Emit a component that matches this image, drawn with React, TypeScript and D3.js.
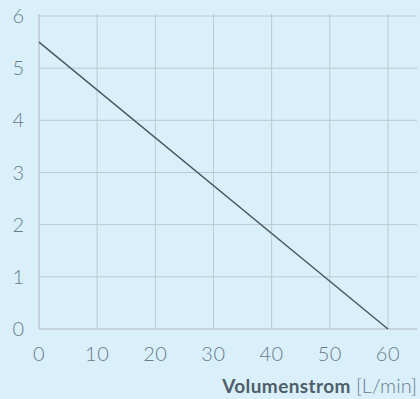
import React from "react";
import * as d3 from "d3";

const xTicks = [0, 10, 20, 30, 40, 50, 60];
const yTicks = [0, 1, 2, 3, 4, 5, 6];
const lineX = [0, 60];
const lineY = [5.5, 0];

const W = 420;
const H = 399;

export default function App() {
  const x = d3.scaleLinear().domain([0, 65]).range([39, 417]);
  const y = d3.scaleLinear().domain([0, 6]).range([329, 16]);
  const pts = lineX.map((v, i) => [v, lineY[i]] as [number, number]);
  const line = d3.line<[number, number]>().x(d => x(d[0])).y(d => y(d[1]));
  const grid = "#bcc8cf";
  const txt = "#6a7c88";
  const font = "Lato, 'Open Sans', sans-serif";
  return (
    <svg width={W} height={H} style={{ position: "fixed", left: 0, top: 0, background: "#d9f0fb" }}>
      <rect x={0} y={0} width={W} height={H} fill="#d9f0fb" />
      {yTicks.filter(t => t > 0).map(t => (
        <line key={"gy" + t} x1={x(0)} x2={417} y1={y(t)} y2={y(t)} stroke={grid} strokeWidth={1} />
      ))}
      {xTicks.filter(t => t > 0).map(t => (
        <line key={"gx" + t} x1={x(t)} x2={x(t)} y1={y(0)} y2={14} stroke={grid} strokeWidth={1} />
      ))}
      <line x1={x(0)} x2={x(0)} y1={y(0)} y2={14} stroke={grid} strokeWidth={1.5} />
      <line x1={x(0)} x2={417} y1={y(0)} y2={y(0)} stroke={grid} strokeWidth={1.5} />
      <path d={line(pts) || ""} fill="none" stroke="#4a5964" strokeWidth={1.5} />
      {yTicks.map(t => (
        <text key={"ty" + t} x={24} y={y(t) + 7} textAnchor="end" fontFamily={font} fontWeight={300} fontSize={20} fill={txt}>
          {t}
        </text>
      ))}
      {xTicks.map(t => (
        <text key={"tx" + t} x={x(t)} y={361} textAnchor="middle" fontFamily={font} fontWeight={300} fontSize={20} letterSpacing={0.5} fill={txt}>
          {t}
        </text>
      ))}
      <text x={417} y={393} textAnchor="end" fontFamily={font} fontSize={19} fill="#4f5e69">
        <tspan fontWeight={700} letterSpacing={0.4}>Volumenstrom </tspan>
        <tspan fontWeight={300} fill={txt} fontSize={20}>[L/min]</tspan>
      </text>
    </svg>
  );
}
